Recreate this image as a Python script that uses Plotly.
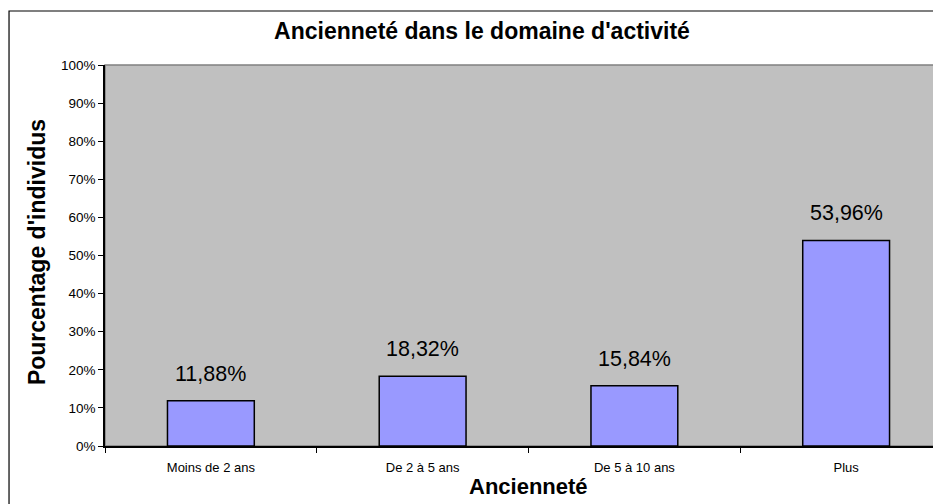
import plotly.graph_objects as go

categories = ["Moins de 2 ans", "De 2 à 5 ans", "De 5 à 10 ans", "Plus"]
values = [11.88, 18.32, 15.84, 53.96]
y_ticks = list(range(0, 101, 10))
y_tick_text = [f"{t}%" for t in y_ticks]
labels = [f"{v:.2f}".replace(".", ",") + "%" for v in values]

FONT = "Liberation Sans, Arial, sans-serif"

fig = go.Figure()
fig.add_trace(go.Bar(
    x=categories, y=values, width=0.41,
    marker=dict(color="#9999FF", line=dict(color="black", width=1.5)),
    hoverinfo="skip",
))

for c, v, t in zip(categories, values, labels):
    fig.add_annotation(x=c, y=v, text=t, showarrow=False, yanchor="bottom",
                       yshift=13, font=dict(family=FONT, size=21.5, color="black"))

# axis titles
fig.add_annotation(xref="paper", yref="paper", x=-0.0813, y=0.509, text="<b>Pourcentage d'individus</b>",
                   textangle=-90, showarrow=False, xanchor="center", yanchor="middle",
                   font=dict(family=FONT, size=23, color="black"))
fig.add_annotation(xref="paper", yref="paper", x=0.506, y=-0.105, text="<b>Ancienneté</b>",
                   showarrow=False, xanchor="center", yanchor="middle",
                   font=dict(family=FONT, size=22, color="black"))

# plot area border (gray) and outer chart border
fig.add_shape(type="rect", xref="paper", yref="paper", x0=0, x1=1.02, y0=0, y1=1,
              line=dict(color="#808080", width=1.5), layer="below")
fig.add_shape(type="rect", xref="paper", yref="paper", x0=-0.1148, x1=1.3, y0=-0.5, y1=1.1417,
              line=dict(color="black", width=1.2))

# the page adds an 8px body margin, so the figure is 8px smaller on top/left
fig.update_layout(
    width=933, height=496,
    margin=dict(l=97, r=0, t=57, b=58),
    paper_bgcolor="white", plot_bgcolor="#C0C0C0",
    showlegend=False,
    title=dict(text="<b>Ancienneté dans le domaine d'activité</b>", x=474 / 933, xref="container",
               xanchor="center", y=1 - 23 / 496, yref="container", yanchor="middle",
               font=dict(family=FONT, size=23, color="black")),
    font=dict(family=FONT, color="black"),
)
fig.update_xaxes(range=[-0.5, 3.448], showgrid=False, showline=True, linecolor="black", linewidth=1.5,
                 ticks="outside", tickson="boundaries", ticklen=5, tickcolor="black",
                 ticklabelstandoff=9,
                 tickfont=dict(family=FONT, size=13, color="black"), zeroline=False)
fig.update_yaxes(range=[0, 100], tickvals=y_ticks, ticktext=y_tick_text, showgrid=False,
                 showline=True, linecolor="black", linewidth=1.5, ticks="outside", ticklen=5,
                 tickcolor="black", tickfont=dict(family=FONT, size=13.5, color="black"), zeroline=False)

fig.write_html("out.html")
